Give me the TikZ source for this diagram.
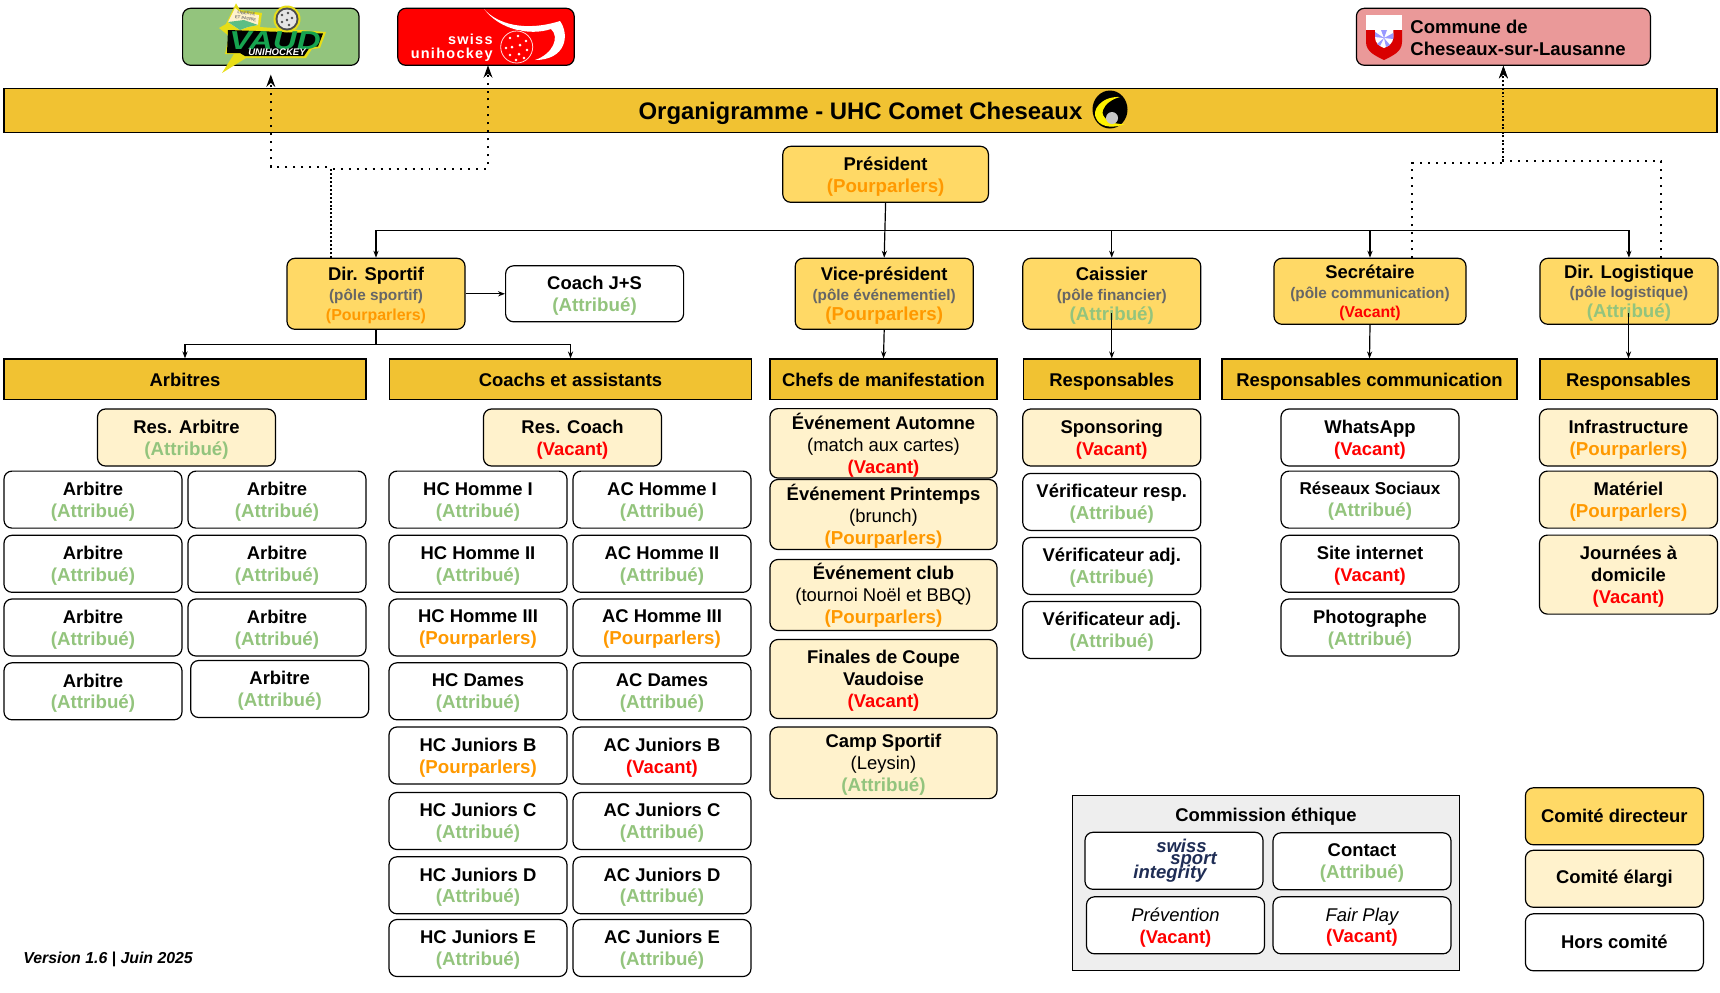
\documentclass[tikz,border=0pt]{standalone}
\usepackage{fontspec}
\setmainfont{Liberation Sans}
\newfontfamily\spacedfont[LetterSpace=9]{Liberation Sans}
\usetikzlibrary{arrows.meta}
\definecolor{dirfill}{HTML}{FFD966}
\definecolor{largefill}{HTML}{FFF2CC}
\definecolor{headfill}{HTML}{F1C232}
\definecolor{attrgreen}{HTML}{93C47D}
\definecolor{pourporange}{HTML}{FF9900}
\definecolor{polegrey}{HTML}{666666}
\definecolor{pinkfill}{HTML}{EA9999}
\definecolor{commfill}{HTML}{EEEEEE}
\definecolor{navytext}{HTML}{1F2D55}
\definecolor{vaudgreen}{HTML}{16A34F}
\newcommand{\attr}{\smash{\textcolor{attrgreen}{\fontsize{9.4}{11}\selectfont (Attribué)}}}
\newcommand{\pourp}{\smash{\textcolor{pourporange}{\fontsize{9.4}{11}\selectfont (Pourparlers)}}}
\newcommand{\vac}{\smash{\textcolor{red}{(Vacant)}}}
\newcommand{\pole}[1]{\textcolor{polegrey}{\fontsize{7.7}{10}\selectfont (pôle #1)}}
\tikzset{
    orgbox/.style={draw,rounded corners=4pt,line width=0.6pt,align=center,inner sep=0pt,
        minimum width=89bp,minimum height=28.5bp,
        font=\fontsize{9.25}{11}\selectfont\bfseries},
    dirbox/.style={orgbox,fill=dirfill},
    largebox/.style={orgbox,fill=largefill},
    outbox/.style={orgbox,fill=white},
    polebox/.style={font=\fontsize{9.25}{10}\selectfont\bfseries},
    headbox/.style={draw,line width=0.6pt,fill=headfill,inner sep=0pt,
        minimum height=20.25bp,text height=8.8pt,text depth=2pt,
        font=\fontsize{9.25}{11}\selectfont\bfseries},
    link/.style={line width=0.6pt,-{Stealth[length=3.5pt,width=2.6pt]}},
    duty/.style={line width=1pt,dash pattern=on 1pt off 3pt,-{Stealth[length=6.2pt,width=4.4pt]}},
}
\begin{document}
\begin{tikzpicture}[x=0.5bp,y=-0.5bp]
        \useasboundingbox (0,0) rectangle (1720,992);
        % outside bodies
        \node[outbox,fill=attrgreen,minimum width=88.2bp] (vaud) at (270.8,36.8) {};
        \node[outbox,fill=red,minimum width=88.2bp] (swiss) at (486,36.8) {};
        \node[outbox,fill=pinkfill,minimum width=147bp] (commune) at (1503.4,36.8) {};
        \node[anchor=west,align=left,inner sep=0pt,font=\fontsize{9.3}{11}\selectfont\bfseries] (communelabel) at (1410,38) {Commune de\\Cheseaux-sur-Lausanne};
        % vaud logo
        \fill[yellow!90!black] (236,3.3) -- (240,10) -- (262,13) -- (260,27) -- (326,32) -- (320,48) -- (312,49) -- (306,58) -- (246,58) -- (222,73) -- (234,54) -- (225,54) -- (229,36) -- (219,28) -- (226,24) -- cycle;
        \fill[largefill] (235,8) -- (240,12) -- (259,15) -- (258,25) -- (248,27) -- (240,30) -- (228,22) -- cycle;
        \fill[vaudgreen!70!white] (228,22) -- (244,20) -- (258,25) -- (248,27) -- (240,30) -- cycle;
        \fill[black] (228,30) -- (256,31) -- (323,33.5) -- (318,46.5) -- (310,47) -- (304,56) -- (245,56) -- (240,53) -- (227,53) -- cycle;
        \fill[yellow!90!black] (287,19) circle (13.5);
        \fill[black!70] (287,19) circle (11.5);
        \fill[black!10] (287,19) circle (9.5);
        \fill[black!70] (282,15) circle (1.3) (288,13) circle (1.3) (292,18) circle (1.3) (287,20) circle (1.3) (282,22) circle (1.3) (289,25) circle (1.3);
        \node[inner sep=0pt,text=black!55,rotate=-8,align=center,font=\fontsize{2.1}{2.6}\selectfont\bfseries] (vaudflag) at (246,16) {LIBERTE\\ET PATRIE};
        \node[inner sep=0pt,text=vaudgreen,xscale=1.28,transform shape,font=\fontsize{13}{13}\selectfont\bfseries\itshape] (vaudname) at (275,40.5) {VAUD};
        \node[inner sep=0pt,text=white,font=\fontsize{4.8}{5}\selectfont\bfseries\itshape] (vaudsub) at (277,52.3) {UNIHOCKEY};
        % swiss unihockey logo
        \fill[white] (484,9) .. controls (497,24) and (525,32) .. (560,21) .. controls (570,35) and (566,60) .. (535,60) .. controls (553,54) and (560,37) .. (551,29) .. controls (530,36) and (500,30) .. cycle;
        \fill[red] (516.7,47) circle (17);
        \draw[white!85!red,line width=0.4pt] (516.7,47) circle (16);
        \fill[white] (510,38) circle (1.3) (518,36) circle (1.3) (526,41) circle (1.3) (512,47) circle (1.5) (520,45) circle (1.5) (527,50) circle (1.3) (506,48) circle (1.3) (510,55) circle (1.3) (519,54) circle (1.5) (516,60) circle (1.3) (524,58) circle (1.3);
        \node[anchor=base east,inner sep=0pt,text=white,font=\fontsize{7.25}{8}\selectfont\spacedfont\bfseries] (swissword) at (493,44) {swiss};
        \node[anchor=base east,inner sep=0pt,text=white,font=\fontsize{7.25}{8}\selectfont\spacedfont\bfseries] (swissuni) at (493,58) {unihockey};
        % commune shield
        \fill[white] (1366,15.3) rectangle (1402,30);
        \fill[red!85!black] (1366,30) -- (1402,30) -- (1402,42) .. controls (1402,52) and (1392,56) .. (1384,60) .. controls (1376,56) and (1366,52) .. (1366,42) -- cycle;
        \fill[white] (1375,30) -- (1393.3,30) -- (1393.3,37) .. controls (1393.3,43) and (1389,46) .. (1384,48) .. controls (1379,46) and (1375,43) .. (1375,37) -- cycle;
        \fill[blue!40!white] (1384,38) -- (1375,32) -- (1375,37) -- cycle (1384,38) -- (1381,30) -- (1387,30) -- cycle (1384,38) -- (1393.3,33) -- (1393.3,39) -- cycle (1384,38) -- (1390,45) -- (1386,47) -- cycle (1384,38) -- (1377,44) -- (1380,46) -- cycle;
        % title bar
        \node[headbox,minimum width=856.5bp,minimum height=22bp,text height=11.5pt,text depth=2.5pt,font=\fontsize{12}{14}\selectfont\bfseries] (title) at (860.5,110.3) {Organigramme - UHC Comet Cheseaux\hspace{20pt}};
        \fill[black] (1110,109.5) ellipse (17.5 and 19);
        \fill[yellow] (1120,97) .. controls (1102,96) and (1090,110) .. (1097,120) .. controls (1102,128) and (1115,128) .. (1125,124) .. controls (1112,125) and (1100,118) .. (1103,110) .. controls (1105,104) and (1112,99) .. cycle;
        \fill[black!22] (1112,118) circle (6);
        % comite directeur
        \node[dirbox,minimum width=102.8bp,minimum height=28bp] (president) at (885.6,174.3) {Président\\\pourp};
        \node[dirbox,polebox,minimum height=35.5bp] (dirsportif) at (376,293.8) {Dir. Sportif\\\pole{sportif}\\\smash{\textcolor{pourporange}{\fontsize{8}{10}\selectfont (Pourparlers)}}};
        \node[outbox,minimum height=28bp] (coachjs) at (594.6,293.8) {Coach J+S\\\attr};
        \node[dirbox,polebox,minimum height=35.5bp] (vicepres) at (884.2,293.8) {Vice-président\\\pole{événementiel}\\\pourp};
        \node[dirbox,polebox,minimum height=35.5bp] (caissier) at (1111.75,293.8) {Caissier\\\pole{financier}\\\attr};
        \node[dirbox,polebox,minimum width=96bp,minimum height=33bp] (secretaire) at (1370,291.3) {Secrétaire\\\pole{communication}\\\smash{\textcolor{red}{\fontsize{7.9}{10}\selectfont (Vacant)}}};
        \node[dirbox,polebox,minimum height=33bp] (logistique) at (1628.9,291.3) {Dir. Logistique\\\pole{logistique}\\\attr};
        % en-tetes
        \node[headbox,minimum width=181bp] (arbitres) at (185,379.25) {Arbitres};
        \node[headbox,minimum width=181bp] (coachs) at (570.5,379.25) {Coachs et assistants};
        \node[headbox,minimum width=113.5bp] (chefs) at (883.5,379.25) {Chefs de manifestation};
        \node[headbox,minimum width=88.25bp] (respfin) at (1111.75,379.25) {Responsables};
        \node[headbox,minimum width=147.5bp] (respcomm) at (1369.5,379.25) {Responsables communication};
        \node[headbox,minimum width=88.5bp] (resplog) at (1628.5,379.25) {Responsables};
        % arbitres
        \node[largebox] (resarbitre) at (186.5,437.5) {Res. Arbitre\\\attr};
        \node[outbox] (arbitrea) at (93,499.6) {Arbitre\\\attr};
        \node[outbox] (arbitreb) at (277,499.6) {Arbitre\\\attr};
        \node[outbox] (arbitrec) at (93,563.8) {Arbitre\\\attr};
        \node[outbox] (arbitred) at (277,563.8) {Arbitre\\\attr};
        \node[outbox] (arbitree) at (93,627.5) {Arbitre\\\attr};
        \node[outbox] (arbitref) at (277,627.5) {Arbitre\\\attr};
        \node[outbox] (arbitreg) at (93,691.3) {Arbitre\\\attr};
        \node[outbox] (arbitreh) at (279.7,689) {Arbitre\\\attr};
        % coachs
        \node[largebox] (rescoach) at (572.5,437.5) {Res. Coach\\\vac};
        \node[outbox] (hchommea) at (478,499.6) {HC Homme I\\\attr};
        \node[outbox] (achommea) at (662,499.6) {AC Homme I\\\attr};
        \node[outbox] (hchommeb) at (478,563.8) {HC Homme II\\\attr};
        \node[outbox] (achommeb) at (662,563.8) {AC Homme II\\\attr};
        \node[outbox] (hchommec) at (478,627.5) {HC Homme III\\\pourp};
        \node[outbox] (achommec) at (662,627.5) {AC Homme III\\\pourp};
        \node[outbox] (hcdames) at (478,691.3) {HC Dames\\\attr};
        \node[outbox] (acdames) at (662,691.3) {AC Dames\\\attr};
        \node[outbox] (hcjunb) at (478,755.5) {HC Juniors B\\\pourp};
        \node[outbox] (acjunb) at (662,755.5) {AC Juniors B\\\vac};
        \node[outbox] (hcjunc) at (478,821) {HC Juniors C\\\attr};
        \node[outbox] (acjunc) at (662,821) {AC Juniors C\\\attr};
        \node[outbox] (hcjund) at (478,885.3) {HC Juniors D\\\attr};
        \node[outbox] (acjund) at (662,885.3) {AC Juniors D\\\attr};
        \node[outbox] (hcjune) at (478,948) {HC Juniors E\\\attr};
        \node[outbox] (acjune) at (662,948) {AC Juniors E\\\attr};
        % manifestations
        \node[largebox,minimum width=113.5bp,minimum height=34.7bp] (automne) at (883.5,443.3) {Événement Automne\\{\mdseries (match aux cartes)}\\\vac};
        \node[largebox,minimum width=113.5bp,minimum height=35bp] (printemps) at (883.5,514.5) {Événement Printemps\\{\mdseries (brunch)}\\\pourp};
        \node[largebox,minimum width=113.5bp,minimum height=35.5bp] (evclub) at (883.5,595) {Événement club\\{\mdseries (tournoi Noël et BBQ)}\\\textcolor{pourporange}{\fontsize{9.4}{11}\selectfont (Pourparlers)}};
        \node[largebox,minimum width=113.5bp,minimum height=39.5bp] (finales) at (883.5,679) {Finales de Coupe\\Vaudoise\\\vac};
        \node[largebox,minimum width=113.5bp,minimum height=35.8bp] (camp) at (883.5,762.8) {Camp Sportif\\{\mdseries (Leysin)}\\\attr};
        % finances
        \node[largebox] (sponsoring) at (1111.75,437.5) {Sponsoring\\\vac};
        \node[outbox] (verifresp) at (1111.75,501.9) {Vérificateur resp.\\\attr};
        \node[outbox] (verifadja) at (1111.75,566) {Vérificateur adj.\\\attr};
        \node[outbox] (verifadjb) at (1111.75,630) {Vérificateur adj.\\\attr};
        % communication
        \node[outbox] (whatsapp) at (1370,437.5) {WhatsApp\\\vac};
        \node[outbox] (reseaux) at (1370,499.6) {{\fontsize{8.6}{11}\selectfont Réseaux Sociaux}\\\attr};
        \node[outbox] (siteweb) at (1370,563.8) {Site internet\\\vac};
        \node[outbox] (photo) at (1370,627.5) {Photographe\\\attr};
        % logistique
        \node[largebox] (infra) at (1628.5,437.5) {Infrastructure\\\pourp};
        \node[largebox] (materiel) at (1628.5,499.6) {Matériel\\\pourp};
        \node[largebox,minimum height=39.5bp] (journees) at (1628.5,574.6) {Journées à\\domicile\\\vac};
        % commission
        \node[draw,line width=0.5pt,fill=commfill,minimum width=193.4bp,minimum height=87.5bp,inner sep=0pt] (commission) at (1265.9,882.8) {};
        \node[inner sep=0pt,font=\fontsize{9.25}{11}\selectfont\bfseries] (commtitle) at (1266,817) {Commission éthique};
        \node[outbox] (integrity) at (1174,860.8) {};
        \node[anchor=base,inner sep=0pt,text=navytext,font=\fontsize{9.3}{9}\selectfont\bfseries\itshape] (intswiss) at (1181.5,852.7) {swiss};
        \node[anchor=base,inner sep=0pt,text=navytext,font=\fontsize{9.3}{9}\selectfont\bfseries\itshape] (intsport) at (1193.5,864) {sport};
        \node[anchor=base,inner sep=0pt,text=navytext,font=\fontsize{9.3}{9}\selectfont\bfseries\itshape] (intword) at (1170,878.3) {integrity};
        \node[outbox] (contact) at (1362,861.3) {Contact\\\attr};
        \node[outbox,minimum width=89bp] (prevention) at (1175.5,925.3) {{\mdseries\itshape Prévention}\\\vac};
        \node[outbox] (fairplay) at (1362,925.3) {{\mdseries\itshape Fair Play}\\\vac};
        % legende
        \node[dirbox] (legdirecteur) at (1614.4,816.3) {Comité directeur};
        \node[largebox] (legelargi) at (1614.4,878.8) {Comité élargi};
        \node[outbox] (leghors) at (1614.4,942.3) {Hors comité};
        \node[anchor=west,inner sep=0pt,font=\fontsize{7.95}{9}\selectfont\bfseries\itshape] (version) at (23,959.5) {Version 1.6 | Juin 2025};
        % solid links
        \coordinate (hub) at (885,230.3);
        \coordinate (sportfork) at (376,344.5);
        \coordinate (caissiertail) at (1111.75,313);
        \coordinate (logtail) at (1628.5,313);
        \draw[link] (president.south) -- (vicepres.north);
        \draw[link] (hub) -| (dirsportif.north);
        \draw[link] (hub) -| (caissier.north);
        \draw[link] (hub) -| (secretaire.north);
        \draw[link] (hub) -| (logistique.north);
        \draw[link] (dirsportif.east) -- (coachjs.west);
        \draw[link] (dirsportif.south) -- (sportfork) -| (arbitres.north);
        \draw[link] (sportfork) -| (coachs.north);
        \draw[link] (vicepres.south) -- (chefs.north);
        \draw[link] (caissiertail) -- (respfin.north);
        \draw[link] (secretaire.south) -- (respcomm.north);
        \draw[link] (logtail) -- (resplog.north);
        % dotted links
        \coordinate (dotsport) at (331,258.3);
        \coordinate (sportleft) at (331,166.5);
        \coordinate (sportright) at (331,168.5);
        \coordinate (swisstip) at (488,65.3);
        \coordinate (dotsecret) at (1412.4,258.3);
        \coordinate (secretbend) at (1412.4,162.5);
        \coordinate (dotlog) at (1661.4,258.3);
        \coordinate (logbend) at (1661.4,161);
        \draw[duty,shorten >=4.3pt] (dotsport) -- (sportleft) -| (vaud.south);
        \draw[duty,dash phase=2pt] (dotsport) -- (sportright) -| (swisstip);
        \draw[duty] (dotsecret) -- (secretbend) -| (commune.south);
        \draw[duty] (dotlog) -- (logbend) -| (commune.south);
    \end{tikzpicture}
\end{document}
